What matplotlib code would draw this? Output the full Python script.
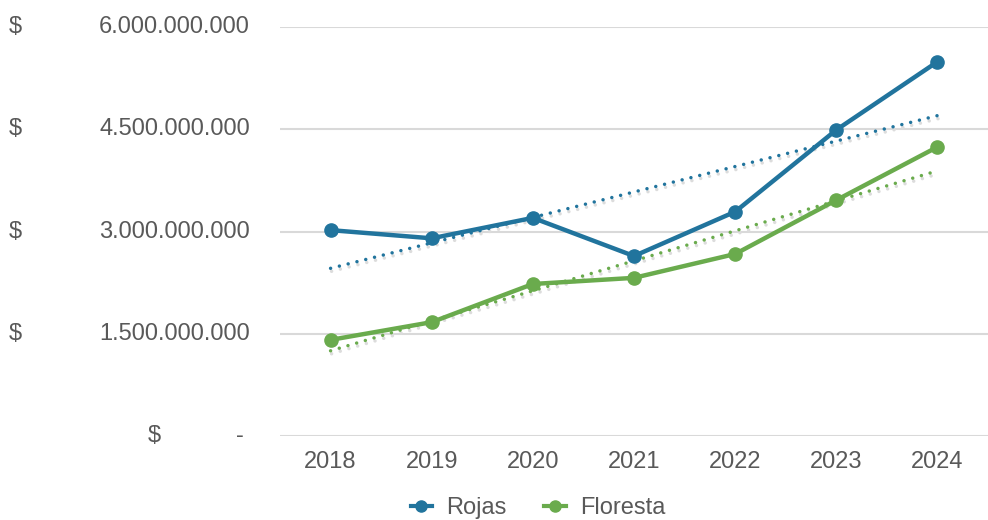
import matplotlib
matplotlib.use("Agg")
import matplotlib.pyplot as plt
import matplotlib.transforms as mtransforms
from matplotlib.lines import Line2D

years = ["2018", "2019", "2020", "2021", "2022", "2023", "2024"]
rojas = [3.02e9, 2.90e9, 3.20e9, 2.64e9, 3.29e9, 4.49e9, 5.49e9]
floresta = [1.41e9, 1.67e9, 2.23e9, 2.32e9, 2.67e9, 3.46e9, 4.24e9]
rojas_trend = [2.46e9, 4.70e9]      # trend line at 2018 and 2024
floresta_trend = [1.25e9, 3.89e9]
yticks = [0, 1.5e9, 3.0e9, 4.5e9, 6.0e9]
ytick_labels = ["-", "1.500.000.000", "3.000.000.000", "4.500.000.000", "6.000.000.000"]

BLUE = "#21749d"
GREEN = "#6aab4d"
GREY_TXT = "#595959"
GRID = "#d9d9d9"
FONT = "Liberation Sans"
FS = 17

plt.rcParams["font.family"] = [FONT, "DejaVu Sans"]

fig = plt.figure(figsize=(9.88, 5.2), dpi=100)
W, H = 988, 520
ax = fig.add_axes([280 / W, (H - 436) / H, (988 - 280) / W, (436 - 27) / H])

x = list(range(len(years)))
ax.set_xlim(-0.5, len(years) - 0.5)
ax.set_ylim(0, 6.0e9)

for v in yticks:
    ax.axhline(v, color=GRID, lw=1.5, zorder=0)

# trend lines with shadow
shadow = mtransforms.offset_copy(ax.transData, fig=fig, x=1.0, y=-3.0, units="dots")
tx = [x[0], x[-1]]
for tr, col in [(rojas_trend, BLUE), (floresta_trend, GREEN)]:
    ax.plot(tx, tr, color="#dcdcdc", lw=2.5, linestyle=(0, (0.01, 2.6)),
            dash_capstyle="round", transform=shadow, zorder=1)
    ax.plot(tx, tr, color=col, lw=2.5, linestyle=(0, (0.01, 2.6)),
            dash_capstyle="round", zorder=2)

ax.plot(x, rojas, color=BLUE, lw=3.2, marker="o", markersize=9.5,
        solid_joinstyle="round", zorder=3)
ax.plot(x, floresta, color=GREEN, lw=3.2, marker="o", markersize=9.5,
        solid_joinstyle="round", zorder=3)

ax.set_xticks(x)
ax.set_xticklabels(years, fontsize=FS, color=GREY_TXT)
ax.tick_params(axis="x", length=0, pad=11)
ax.set_yticks([])
for s in ax.spines.values():
    s.set_visible(False)

# accounting-style y labels
blend = mtransforms.blended_transform_factory(fig.transFigure, ax.transData)
for v, lab in zip(yticks, ytick_labels):
    if v == 0:
        ax.text(148 / W, v, "$", transform=blend, ha="left", va="center",
                fontsize=FS, color=GREY_TXT)
        ax.text(240 / W, v, lab, transform=blend, ha="center", va="center",
                fontsize=FS, color=GREY_TXT)
    else:
        ax.text(9 / W, v, "$", transform=blend, ha="left", va="center",
                fontsize=FS, color=GREY_TXT)
        ax.text(250 / W, v, lab, transform=blend, ha="right", va="center",
                fontsize=FS, color=GREY_TXT)

handles = [Line2D([], [], color=BLUE, lw=3, marker="o", markersize=8),
           Line2D([], [], color=GREEN, lw=3, marker="o", markersize=8)]
fig.legend(handles, ["Rojas", "Floresta"], loc="center", bbox_to_anchor=(538 / W, 1 - 508 / H),
           ncol=2, frameon=False, fontsize=FS, handlelength=0.9, handletextpad=0.6,
           columnspacing=1.6, labelcolor=GREY_TXT)

fig.savefig("out.png", dpi=100, facecolor="white")
